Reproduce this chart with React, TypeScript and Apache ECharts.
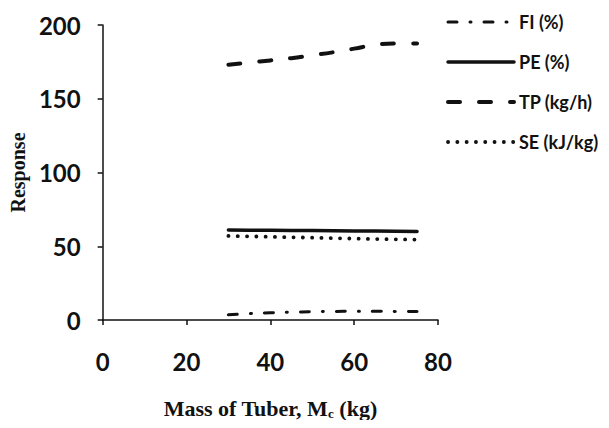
import React, { useEffect, useRef } from "react";
import * as echarts from "echarts";

// Mass of tuber (kg) sampled along each response curve
const massKg = [30, 35, 40, 45, 50, 55, 60, 65, 70, 75];

// Responses at each mass
const fiPct = [3.5, 4.3, 4.9, 5.3, 5.6, 5.8, 5.9, 5.9, 5.8, 5.7];
const pePct = [61, 60.9, 60.8, 60.7, 60.6, 60.5, 60.4, 60.3, 60.2, 60];
const tpKgH = [173, 174.5, 176, 177.5, 179.5, 181.5, 184, 186.5, 187.5, 187.5];
const seKJKg = [57, 56.7, 56.4, 56.1, 55.8, 55.5, 55.2, 54.9, 54.7, 54.5];

const xTicks = { min: 0, max: 80, interval: 20 };
const yTicks = { min: 0, max: 200, interval: 50 };

const seriesNames = ["FI (%)", "PE (%)", "TP (kg/h)", "SE (kJ/kg)"];

const pairs = (ys: number[]) => massKg.map((x, i) => [x, ys[i]]);

const tickFont = "Lato, 'Open Sans', sans-serif";
const titleFont = "'Liberation Serif', 'DejaVu Serif', serif";

export default function App() {
  const ref = useRef<HTMLDivElement>(null);

  useEffect(() => {
    if (!ref.current) return;
    const chart = echarts.init(ref.current, undefined, { renderer: "svg" });
    const ink = "#111";
    const axisCommon = {
      axisLine: { show: true, lineStyle: { color: ink, width: 1.5 } },
      axisTick: { show: true, inside: false, length: 5, lineStyle: { color: ink, width: 1.5 } },
      splitLine: { show: false },
    };
    chart.setOption({
      animation: false,
      backgroundColor: "#fff",
      grid: { left: 98, right: 171, top: 25, bottom: 108, containLabel: false },
      legend: {
        orient: "vertical",
        left: 441,
        top: 6,
        itemWidth: 66,
        itemHeight: 14,
        itemGap: 18,
        data: seriesNames,
        itemStyle: { opacity: 0 },
        lineStyle: { width: "inherit" },
        textStyle: { fontFamily: tickFont, fontWeight: "bold", fontSize: 18, color: ink, lineHeight: 22 },
      },
      xAxis: {
        type: "value",
        ...xTicks,
        ...axisCommon,
        axisLabel: { margin: 29, fontFamily: tickFont, fontWeight: "bold", fontSize: 24, color: ink },
        name: "Mass of Tuber, M{sub|c} (kg)",
        nameLocation: "middle",
        nameGap: 77,
        nameTextStyle: {
          fontFamily: titleFont,
          fontWeight: "bold",
          fontSize: 22,
          color: ink,
          rich: {
            sub: { fontFamily: titleFont, fontWeight: "bold", fontSize: 13, color: ink, verticalAlign: "bottom", padding: [10, 0, 0, 0] },
          },
        },
      },
      yAxis: {
        type: "value",
        ...yTicks,
        ...axisCommon,
        axisLabel: { margin: 22, fontFamily: tickFont, fontWeight: "bold", fontSize: 24, color: ink },
        name: "Response",
        nameLocation: "middle",
        nameGap: 63,
        nameTextStyle: { fontFamily: titleFont, fontWeight: "bold", fontSize: 20, color: ink },
      },
      series: [
        {
          name: seriesNames[0],
          type: "line",
          data: pairs(fiPct),
          showSymbol: false,
          symbol: "none",
          smooth: true,
          lineStyle: { color: ink, width: 3, type: [9, 13, 1, 13], cap: "round" },
          itemStyle: { color: ink },
        },
        {
          name: seriesNames[1],
          type: "line",
          data: pairs(pePct),
          showSymbol: false,
          symbol: "none",
          lineStyle: { color: ink, width: 3.5, type: "solid", cap: "round" },
          itemStyle: { color: ink },
        },
        {
          name: seriesNames[2],
          type: "line",
          data: pairs(tpKgH),
          showSymbol: false,
          symbol: "none",
          smooth: true,
          lineStyle: { color: ink, width: 4, type: [12, 19], cap: "round" },
          itemStyle: { color: ink },
        },
        {
          name: seriesNames[3],
          type: "line",
          data: pairs(seKJKg),
          showSymbol: false,
          symbol: "none",
          lineStyle: { color: ink, width: 3.8, type: [0.1, 9.2], cap: "round" },
          itemStyle: { color: ink },
        },
      ],
    });
    return () => chart.dispose();
  }, []);

  return <div ref={ref} style={{ width: 609, height: 428, margin: -8 }} />;
}
